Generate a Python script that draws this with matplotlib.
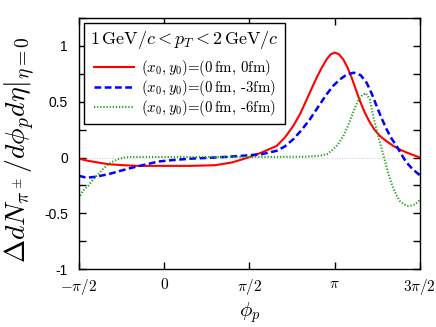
import numpy as np
import matplotlib
matplotlib.use("Agg")
import matplotlib.pyplot as plt
from matplotlib.ticker import MultipleLocator

plt.rcParams['mathtext.fontset'] = 'cm'
plt.rcParams['font.family'] = ['Liberation Sans', 'DejaVu Sans']

# values (phi in radians)
red_phi = [-1.571, -1.400, -1.215, -1.031, -0.718, -0.479, -0.105, 0.509, 0.938, 1.246,
           1.551, 1.798, 2.074, 2.227, 2.380, 2.510, 2.627, 2.720, 2.811, 2.905, 2.995,
           3.070, 3.147, 3.220, 3.300, 3.380, 3.455, 3.530, 3.608, 3.700, 3.792, 3.880,
           3.976, 4.100, 4.221, 4.340, 4.467, 4.590, 4.712]
red_val = [-0.010, -0.030, -0.045, -0.060, -0.070, -0.075, -0.075, -0.075, -0.069, -0.045,
           0.000, 0.045, 0.104, 0.180, 0.283, 0.395, 0.520, 0.620, 0.716, 0.805, 0.880,
           0.925, 0.940, 0.925, 0.880, 0.805, 0.716, 0.612, 0.507, 0.400, 0.313, 0.247,
           0.193, 0.145, 0.104, 0.072, 0.045, 0.022, 0.000]

blue_phi = [-1.571, -1.455, -1.400, -1.271, -1.031, -0.847, -0.663, -0.479, -0.105, 0.202,
            0.509, 0.815, 1.120, 1.430, 1.798, 2.074, 2.227, 2.380, 2.530, 2.687, 2.840,
            2.995, 3.120, 3.240, 3.370, 3.497, 3.620, 3.731, 3.823, 3.915, 4.007, 4.099,
            4.190, 4.283, 4.375, 4.467, 4.590, 4.712]
blue_val = [-0.164, -0.178, -0.180, -0.173, -0.150, -0.125, -0.100, -0.078, -0.036, -0.021,
            -0.010, -0.003, 0.005, 0.015, 0.030, 0.060, 0.100, 0.164, 0.245, 0.343, 0.455,
            0.567, 0.645, 0.700, 0.745, 0.760, 0.738, 0.670, 0.575, 0.462, 0.352, 0.253,
            0.170, 0.104, 0.025, -0.045, -0.110, -0.158]

green_phi = [-1.571, -1.500, -1.400, -1.300, -1.215, -1.120, -1.031, -0.940, -0.847, -0.750,
             -0.663, -0.400, 0.000, 1.000, 2.000, 2.600, 2.872, 3.000, 3.087, 3.200,
             3.300, 3.380, 3.455, 3.520, 3.577, 3.650, 3.718, 3.790, 3.853, 3.900,
             3.945, 3.990, 4.037, 4.083, 4.129, 4.175, 4.221, 4.283, 4.345, 4.420,
             4.497, 4.560, 4.621, 4.670, 4.712]
green_val = [-0.367, -0.300, -0.254, -0.190, -0.150, -0.100, -0.060, -0.035, -0.015, -0.003,
             0.004, 0.005, 0.005, 0.005, 0.005, 0.007, 0.015, 0.030, 0.060, 0.115,
             0.190, 0.275, 0.370, 0.450, 0.510, 0.560, 0.576, 0.520, 0.370, 0.280,
             0.190, 0.110, 0.030, -0.055, -0.140, -0.210, -0.270, -0.340, -0.390, -0.420,
             -0.433, -0.430, -0.420, -0.400, -0.380]

xticks = [-np.pi / 2, 0, np.pi / 2, np.pi, 3 * np.pi / 2]
xticklabels = [r'$-\pi/2$', r'$0$', r'$\pi/2$', r'$\pi$', r'$3\pi/2$']
yticks = [-1, -0.5, 0, 0.5, 1]
yticklabels = ['-1', '-0.5', '0', '0.5', '1']

fig = plt.figure(figsize=(4.36, 3.27), dpi=100)
ax = fig.add_axes([0.181, 0.177, 0.782, 0.768])

ax.axhline(0, color='#bbbbbb', lw=0.6, ls=(0, (1, 2)), zorder=1)
ax.plot(red_phi, red_val, color='#ff0000', lw=1.5, label=r'$(x_0,y_0)$=(0$\,$fm, 0fm)')
ax.plot(blue_phi, blue_val, color='#0000ff', lw=1.8, ls=(0, (2.7, 1.4)),
        label=r'$(x_0,y_0)$=(0$\,$fm, -3fm)')
ax.plot(green_phi, green_val, color='#21a021', lw=1.5, ls=(0, (0.6, 0.9)),
        label=r'$(x_0,y_0)$=(0$\,$fm, -6fm)')

ax.set_xlim(-np.pi / 2, 3 * np.pi / 2)
ax.set_ylim(-1, 1.25)
ax.set_xticks(xticks)
ax.set_xticklabels(xticklabels, fontsize=11)
ax.set_yticks(yticks)
ax.set_yticklabels(yticklabels, fontsize=10)
ax.yaxis.set_minor_locator(MultipleLocator(0.25))
ax.tick_params(which='both', direction='in', top=True, right=True, width=1.0)
ax.tick_params(which='major', length=5)
ax.tick_params(which='minor', length=5)
ax.tick_params(axis='y', pad=8)
ax.tick_params(axis='x', pad=6)
for s in ax.spines.values():
    s.set_linewidth(1.0)

ax.set_xlabel(r'$\phi_p$', fontsize=15, labelpad=2)
ax.set_ylabel(r'$\Delta dN_{\pi^\pm}/d\phi_p d\eta|_{\eta=0}$', fontsize=20)
ax.yaxis.set_label_coords(-0.12, 0.475)

leg = ax.legend(loc='upper left', title=r'$1\,\mathrm{GeV}/c < p_T < 2\,\mathrm{GeV}/c$',
                prop={'family': 'cmr10', 'size': 10.7}, title_fontsize=13.0,
                frameon=True, fancybox=False, edgecolor='black', framealpha=1,
                handlelength=2.7, handletextpad=0.47, borderaxespad=0.35,
                labelspacing=0.0, borderpad=0.4)
leg.get_frame().set_linewidth(1.0)
leg._legend_box.sep = 5

fig.savefig('out.png', dpi=100)
